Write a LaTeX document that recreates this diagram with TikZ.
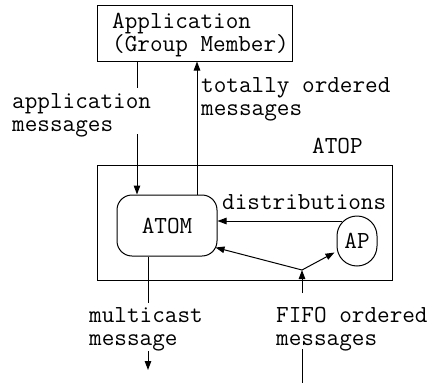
\documentclass[tikz,border=0pt]{standalone}
\usepackage{fontspec}
\usetikzlibrary{arrows.meta,calc}
\tikzset{
  lbl/.style={font=\ttfamily\fontsize{24.5}{22.5}\selectfont, inner sep=0pt, align=left},
  box/.style={draw, line width=1pt, inner sep=0pt},
  conn/.style={line width=1pt},
  arr/.style={conn, -{Triangle[length=9pt,width=6.5pt]}}
}
\begin{document}
\begin{tikzpicture}[x=1pt,y=-1pt]
\useasboundingbox (0,0) rectangle (434,383);

% boxes
\node[box, minimum width=195pt, minimum height=56pt] (app) at (194.5,33) {};
\node[lbl, anchor=base west] (applbl) at (112,51) {Application\\(Group Member)};
\node[box, minimum width=295pt, minimum height=115pt] (atop) at (244.5,222.5) {};
\node[box, lbl, rounded corners=15pt, minimum width=100pt, minimum height=61pt] (atom) at (167,225.5) {ATOM};
\node[box, lbl, rounded corners=20pt, minimum width=40pt, minimum height=50pt] (ap) at (357,241) {AP};

% labels (base anchor sits on the last line)
\node[lbl, anchor=base west] (appmsg) at (12,131) {application\\messages};
\node[lbl, anchor=base west] (totmsg) at (201,115) {totally ordered\\messages};
\node[lbl, anchor=base west] (atoplbl) at (312,153) {ATOP};
\node[lbl, anchor=base west] (dist) at (222,209) {distributions};
\node[lbl, anchor=base west] (mcast) at (89,345) {multicast\\message};
\node[lbl, anchor=base west] (fifo) at (276,345) {FIFO ordered\\messages};

% connector points
\coordinate (a1) at (137,88);
\coordinate (a2) at (137,134);
\coordinate (up) at (197,0);
\coordinate (d1) at (342,221);
\coordinate (j) at (302,270);
\coordinate (atomin) at ($(atom.south east)+(-2,-9)$);
\coordinate (apin) at ($(ap.south west)+(-2,-14)$);
\coordinate (f1) at (302,383);
\coordinate (f2) at (302,349);
\coordinate (f3) at (302,293);
\coordinate (m1) at (148,303);
\coordinate (m2) at (148,351);
\coordinate (m3) at (148,370);

% application messages down into ATOM
\draw[conn] (app.south -| a1) -- (a1);
\draw[arr] (a2) -- (atom.north -| a2);
% totally ordered messages up to the application
\draw[arr] (atom.north -| up) -- (app.south -| up);
% distributions from AP to ATOM
\draw[arr] (d1) -- (atom.east |- d1);
% FIFO ordered messages fan out to ATOM and AP
\draw[conn] (f1) -- (f2);
\draw[arr] (f3) -- (j);
\draw[arr] (j) -- (atomin);
\draw[arr] (j) -- (apin);
% multicast message out of ATOM
\draw[conn] (atom.south -| m1) -- (m1);
\draw[arr] (m2) -- (m3);
\end{tikzpicture}
\end{document}
